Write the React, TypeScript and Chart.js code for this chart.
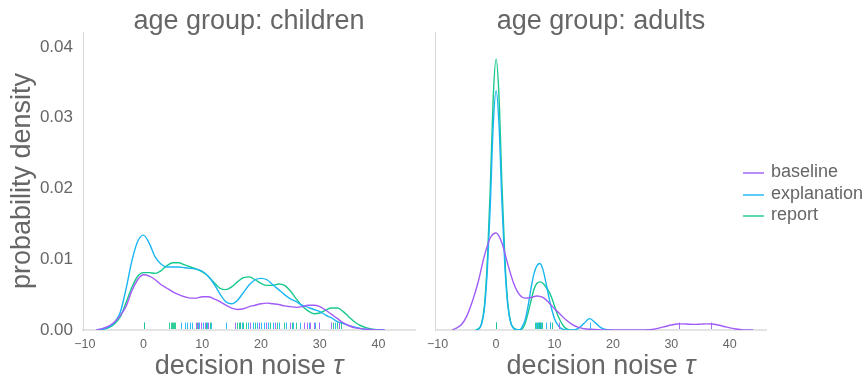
import React, { useEffect, useRef } from "react";
import { Chart, registerables } from "chart.js";
Chart.register(...registerables);

const FONT = '"Liberation Sans", Arial, Helvetica, sans-serif';
const TEXT = "#666666";

const SERIES = ["baseline", "explanation", "report"];
const COLORS = ["#a05cf8", "#1ab6f4", "#17c98c"];
const X_TICKS = [-10, 0, 10, 20, 30, 40];
const Y_TICKS = [0, 0.01, 0.02, 0.03, 0.04];
const X_MIN = -10.3;
const X_MAX = 46.2;
const Y_MAX = 0.0421;
const X_TITLE = "decision noise ";
const X_TITLE_SYMBOL = "τ";
const Y_TITLE = "probability density";

// ---- children: density curves ----
const childX = [-8, -7, -6, -5, -4, -3, -2, -1, 0, 1, 2, 3, 4, 5, 6, 7, 8, 9, 10, 11, 12, 13, 14, 15, 16, 17, 18, 19, 20, 21, 22, 23, 24, 25, 26, 27, 28, 29, 30, 31, 32, 33, 34, 35, 36, 37, 38, 39, 40, 41];
const childBaseline = [0, 0.0002, 0.0005, 0.0011, 0.002, 0.0033, 0.0055, 0.0071, 0.0078, 0.0076, 0.0071, 0.0064, 0.0059, 0.0054, 0.005, 0.0047, 0.0045, 0.0045, 0.0047, 0.0047, 0.0044, 0.004, 0.0035, 0.0031, 0.0029, 0.003, 0.0033, 0.0035, 0.0037, 0.0038, 0.0037, 0.0036, 0.0034, 0.0033, 0.0032, 0.0033, 0.0035, 0.0035, 0.0033, 0.0028, 0.0022, 0.0016, 0.001, 0.0006, 0.0003, 0.0002, 0.0001, 0.00003, 0, 0];
const childExplanation = [0, 0.0001, 0.0004, 0.001, 0.0024, 0.0057, 0.0097, 0.0125, 0.0134, 0.0122, 0.0103, 0.0093, 0.0089, 0.0089, 0.0089, 0.0088, 0.0087, 0.0086, 0.0083, 0.0076, 0.0065, 0.0051, 0.004, 0.0037, 0.0042, 0.0053, 0.0064, 0.0071, 0.0073, 0.0071, 0.0064, 0.0057, 0.005, 0.0044, 0.004, 0.0035, 0.0032, 0.0029, 0.0026, 0.0021, 0.0017, 0.0012, 0.0009, 0.0006, 0.0004, 0.0002, 0.0001, 0.00003, 0, 0];
const childReport = [0, 0.0001, 0.0003, 0.0008, 0.0018, 0.0038, 0.006, 0.0076, 0.0081, 0.0081, 0.008, 0.0084, 0.0091, 0.0095, 0.0095, 0.0092, 0.0089, 0.0086, 0.0082, 0.0076, 0.0067, 0.0059, 0.0057, 0.0061, 0.0068, 0.0074, 0.0075, 0.0071, 0.0066, 0.0063, 0.0063, 0.0065, 0.0063, 0.0055, 0.0044, 0.0034, 0.0027, 0.0023, 0.0024, 0.0028, 0.0031, 0.0031, 0.0026, 0.0018, 0.0011, 0.0006, 0.0003, 0.0001, 0.00003, 0];

// ---- children: rug observations ----
const childRugBaseline = [8.9, 9.3, 9.8, 10.4, 11.0, 15.6, 16.5, 18.2, 19.6, 20.8, 22.4, 24.9, 27.3, 27.8, 28.4, 29.0, 29.8, 31.9, 33.2];
const childRugExplanation = [0.1, 6.4, 7.0, 7.4, 7.9, 8.3, 9.5, 10.1, 10.8, 11.5, 14.1, 16.8, 17.7, 18.6, 19.3, 20.0, 20.5, 21.2, 22.0, 23.0, 24.2, 25.5, 26.6, 28.1, 29.1, 32.6];
const childRugReport = [0.0, 4.4, 4.6, 4.8, 5.0, 5.2, 5.4, 9.1, 10.6, 11.3, 15.9, 16.2, 16.5, 17.0, 17.4, 19.0, 21.6, 22.8, 23.9, 25.2, 26.0, 32.3, 33.0, 33.6];

// ---- adults: density curves ----
const adultBaselineX = [-7.5, -7, -6, -5, -4, -3, -2, -1, 0, 1, 2, 3, 4, 5, 6, 7, 8, 9, 10, 11, 12, 13, 14, 15, 16, 18, 22, 25, 26, 27, 28, 29, 30, 31, 32, 33, 34, 35, 36, 37, 38, 39, 40, 41, 42, 43, 44];
const adultBaseline = [0, 0.0002, 0.0007, 0.002, 0.0042, 0.007, 0.0105, 0.013, 0.0137, 0.0123, 0.0093, 0.0066, 0.005, 0.0045, 0.0046, 0.0048, 0.0046, 0.0039, 0.003, 0.0022, 0.0014, 0.0008, 0.0004, 0.0002, 0.0001, 0.00002, 0, 0.00002, 0.00005, 0.0001, 0.0003, 0.0005, 0.0007, 0.00085, 0.00087, 0.00082, 0.0008, 0.00083, 0.00087, 0.00085, 0.0007, 0.0005, 0.0003, 0.00015, 0.00006, 0.00002, 0];
const adultExplanationX = [-3.5, -3, -2.5, -2, -1.5, -1, -0.5, 0, 0.5, 1, 1.5, 2, 2.5, 3, 3.5, 4, 4.5, 5, 5.5, 6, 6.5, 7, 7.5, 8, 8.5, 9, 9.5, 10, 10.5, 11, 11.5, 12, 13, 14, 15, 16, 17, 18, 19, 20];
const adultExplanation = [0, 0.0001, 0.0008, 0.003, 0.0085, 0.0175, 0.0288, 0.0338, 0.029, 0.018, 0.009, 0.0035, 0.001, 0.0002, 0.00005, 0, 0.0005, 0.0015, 0.0035, 0.006, 0.008, 0.0091, 0.0094, 0.0086, 0.0068, 0.0048, 0.003, 0.0016, 0.0008, 0.0003, 0.0001, 0, 0, 0.0002, 0.0009, 0.0016, 0.001, 0.0003, 0.00005, 0];
const adultReportX = [-3.5, -3, -2.5, -2, -1.5, -1, -0.5, 0, 0.5, 1, 1.5, 2, 2.5, 3, 3.5, 4, 4.5, 5, 5.5, 6, 6.5, 7, 7.5, 8, 8.5, 9, 9.5, 10, 10.5, 11, 11.5, 12, 12.5, 13];
const adultReport = [0, 0.0002, 0.0009, 0.0034, 0.0097, 0.0199, 0.0327, 0.0383, 0.033, 0.0205, 0.0102, 0.0038, 0.0011, 0.0003, 0.0001, 0, 0.0002, 0.001, 0.0025, 0.0042, 0.0058, 0.0066, 0.0068, 0.0066, 0.0061, 0.0055, 0.0046, 0.0034, 0.0022, 0.0013, 0.0006, 0.0002, 0.00005, 0];

// ---- adults: rug observations ----
const adultRugBaseline = [0, 7.5, 9.3, 10.8, 31.3, 36.8];
const adultRugExplanation = [0, 6.8, 7.1, 7.4, 7.7, 8.5, 9.3, 16.1];
const adultRugReport = [0, 6.7, 7.0, 7.3, 7.6, 7.9, 9.5];

type Curve = { x: number[]; y: number[] };

function withAlpha(hex: string, a: number) {
  const r = parseInt(hex.slice(1, 3), 16);
  const g = parseInt(hex.slice(3, 5), 16);
  const b = parseInt(hex.slice(5, 7), 16);
  return `rgba(${r},${g},${b},${a})`;
}

function Panel(props: {
  title: string;
  curves: Curve[];
  rugs: number[][];
  showY: boolean;
  left: number;
  width: number;
  yWidth: number;
  padRight: number;
}) {
  const ref = useRef<HTMLCanvasElement | null>(null);
  useEffect(() => {
    if (!ref.current) return;
    const { title, curves, rugs, showY, yWidth, padRight } = props;
    const titlePlugin = {
      id: "panelTitles",
      afterDraw(chart: any) {
        const { ctx, chartArea } = chart;
        const cx = (chartArea.left + chartArea.right) / 2;
        ctx.save();
        ctx.fillStyle = TEXT;
        ctx.textBaseline = "alphabetic";
        ctx.font = `27px ${FONT}`;
        ctx.textAlign = "center";
        ctx.fillText(title, cx, 29);
        // x axis title with italic symbol
        const regW = ctx.measureText(X_TITLE).width;
        ctx.font = `italic 27px ${FONT}`;
        const symW = ctx.measureText(X_TITLE_SYMBOL).width;
        const start = cx - (regW + symW) / 2;
        ctx.textAlign = "left";
        ctx.font = `27px ${FONT}`;
        ctx.fillText(X_TITLE, start, 374);
        ctx.font = `italic 27px ${FONT}`;
        ctx.fillText(X_TITLE_SYMBOL, start + regW, 374);
        ctx.restore();
      },
    };
    const rugPlugin = {
      id: "rugMarks",
      afterDatasetsDraw(chart: any) {
        const { ctx, scales } = chart;
        const base = scales.y.getPixelForValue(0);
        const top = scales.y.getPixelForValue(0.00105);
        ctx.save();
        ctx.lineWidth = 1;
        rugs.forEach((vals, i) => {
          ctx.strokeStyle = withAlpha(COLORS[i], 0.9);
          vals.forEach((v) => {
            const px = Math.round(scales.x.getPixelForValue(v)) + 0.5;
            ctx.beginPath();
            ctx.moveTo(px, base - 1);
            ctx.lineTo(px, top);
            ctx.stroke();
          });
        });
        ctx.restore();
      },
    };
    const chart = new Chart(ref.current, {
      type: "line",
      data: {
        datasets: curves.map((c, i) => ({
          label: SERIES[i],
          data: c.x.map((x, j) => ({ x, y: c.y[j] })),
          borderColor: COLORS[i],
          backgroundColor: COLORS[i],
          borderWidth: 1.4,
          pointRadius: 0,
          fill: false,
          cubicInterpolationMode: "monotone" as const,
        })),
      },
      options: {
        responsive: false,
        animation: false,
        events: [],
        layout: { padding: { top: 32, right: padRight, left: 0, bottom: 0 } },
        plugins: {
          legend: { display: false },
          tooltip: { enabled: false },
          title: { display: false },
        },
        scales: {
          x: {
            type: "linear",
            min: X_MIN,
            max: X_MAX,
            grid: { display: false, drawTicks: false },
            border: { display: true, color: "#e4e4e4", width: 2 },
            ticks: {
              padding: 7,
              color: TEXT,
              font: { family: FONT, size: 12.5 },
              maxRotation: 0,
              autoSkip: false,
              callback: (v: any) => (Number(v) < 0 ? "\u2212" + Math.abs(Number(v)) : String(v)),
            },
            afterBuildTicks: (s: any) => {
              s.ticks = X_TICKS.map((v) => ({ value: v }));
            },
            afterFit: (s: any) => {
              s.height = 53;
            },
            title: { display: false },
          },
          y: {
            type: "linear",
            min: 0,
            max: Y_MAX,
            grid: { display: false, drawTicks: false },
            border: { display: true, color: "#d8d8d8", width: 1 },
            ticks: {
              display: showY,
              padding: 10,
              color: TEXT,
              font: { family: FONT, size: 17 },
              callback: (v: any) => Number(v).toFixed(2),
            },
            afterBuildTicks: (s: any) => {
              s.ticks = Y_TICKS.map((v) => ({ value: v }));
            },
            afterFit: (s: any) => {
              s.width = yWidth;
            },
            title: {
              display: showY,
              text: Y_TITLE,
              color: TEXT,
              font: { family: FONT, size: 27 },
              padding: { top: 6, bottom: 0 },
            },
          },
        },
      },
      plugins: [titlePlugin, rugPlugin],
    } as any);
    return () => chart.destroy();
  }, []);
  return (
    <canvas
      ref={ref}
      width={props.width}
      height={383}
      style={{ position: "absolute", left: props.left, top: 0, width: props.width, height: 383 }}
    />
  );
}

function Legend() {
  const rowTop = [160, 181.5, 203];
  return (
    <>
      {SERIES.map((s, i) => (
        <div
          key={s}
          style={{
            position: "absolute",
            left: 742,
            top: rowTop[i],
            height: 22,
            lineHeight: "22px",
            fontFamily: FONT,
            fontSize: 18,
            color: TEXT,
            whiteSpace: "nowrap",
          }}
        >
          <span
            style={{
              position: "absolute",
              left: 1,
              top: 12,
              width: 21,
              height: 2,
              background: withAlpha(COLORS[i], 0.7),
            }}
          />
          <span style={{ position: "absolute", left: 29, top: 0 }}>{s}</span>
        </div>
      ))}
    </>
  );
}

export default function App() {
  return (
    <div style={{ position: "absolute", left: 0, top: 0, width: 866, height: 383, background: "#fff", overflow: "hidden" }}>
      <Panel
        title="age group: children"
        curves={[
          { x: childX, y: childBaseline },
          { x: childX, y: childExplanation },
          { x: childX, y: childReport },
        ]}
        rugs={[childRugBaseline, childRugExplanation, childRugReport]}
        showY={true}
        left={0}
        width={430}
        yWidth={83}
        padRight={15}
      />
      <Panel
        title="age group: adults"
        curves={[
          { x: adultBaselineX, y: adultBaseline },
          { x: adultExplanationX, y: adultExplanation },
          { x: adultReportX, y: adultReport },
        ]}
        rugs={[adultRugBaseline, adultRugExplanation, adultRugReport]}
        showY={false}
        left={420}
        width={446}
        yWidth={14}
        padRight={100}
      />
      <Legend />
    </div>
  );
}
